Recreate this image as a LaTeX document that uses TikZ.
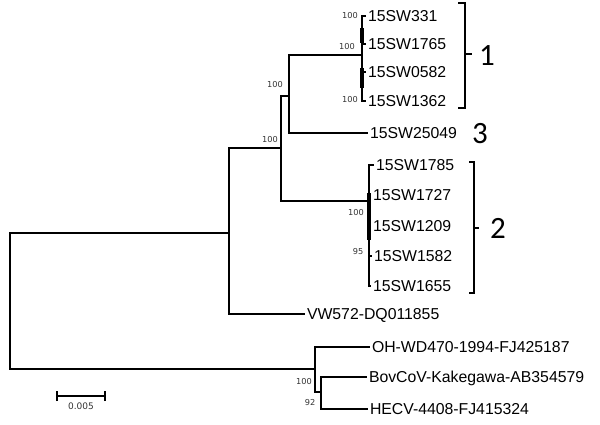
\documentclass[tikz,border=0pt]{standalone}
\usepackage{fontspec}
\setmainfont{Liberation Sans}
\newfontfamily\bootfont{DejaVu Sans}
\newfontfamily\cladefont{Carlito}
\usepackage{tikz}
\usetikzlibrary{positioning}
\tikzset{leaf node/.style={anchor=west,inner xsep=1pt,inner ysep=0pt,text height=11.2pt,text depth=0pt,font=\fontsize{15.8}{18}\selectfont},
	boot label/.style={inner sep=0pt,text=black!80,font=\bootfont\fontsize{8.2}{9}\selectfont},
	clade label/.style={inner sep=0pt,font=\cladefont\fontsize{31}{33}\selectfont},
	elbow/.style={to path={|- (\tikztotarget)}},}

\begin{document}
\begin{tikzpicture}[x=1pt, y=-1pt, line width=2pt]
	\useasboundingbox (0,0) rectangle (600,424);
	% inner nodes of the tree
	\coordinate (r) at (10,301);
	\coordinate (a) at (229,233);
	\coordinate (c) at (281,148);
	\coordinate (d) at (289,96);
	\coordinate (h) at (362,55);
	\coordinate (g) at (369,201);
	\coordinate (e) at (315,369);
	\coordinate (f) at (321,392);
	\coordinate (h1) at (362,28);  \coordinate (h2) at (362,43);
	\coordinate (h3) at (362,68);  \coordinate (h4) at (362,88);
	\coordinate (g1) at (369,193); \coordinate (g2) at (369,240);

	% leaves
	\node[leaf node] (s331) at (366,16) {15SW331};
	\node[leaf node] (s1765) at (366,44) {15SW1765};
	\node[leaf node] (s0582) at (366,72) {15SW0582};
	\node[leaf node] (s1362) at (366,101) {15SW1362};
	\node[leaf node] (s25049) at (368,133) {15SW25049};
	\node[leaf node] (s1785) at (374,165) {15SW1785};
	\node[leaf node] (s1727) at (371,195) {15SW1727};
	\node[leaf node] (s1209) at (371,226) {15SW1209};
	\node[leaf node] (s1582) at (372,256) {15SW1582};
	\node[leaf node] (s1655) at (371,286) {15SW1655};
	\node[leaf node] (vw) at (305,314) {VW572-DQ011855};
	\node[leaf node] (oh) at (370,347) {OH-WD470-1994-FJ425187};
	\node[leaf node] (bov) at (367,377) {BovCoV-Kakegawa-AB354579};
	\node[leaf node] (hecv) at (368,409) {HECV-4408-FJ415324};

	\path[draw]
	(r) edge [elbow] (a)
	(r) edge [elbow] (e)
	(a) edge [elbow] (c)
	(a) edge [elbow] (vw.west)
	(c) edge [elbow] (d)
	(c) edge [elbow] (g)
	(d) edge [elbow] (h)
	(d) edge [elbow] (s25049.west)
	(h) edge [elbow] (s331.west)
	(h) edge [elbow] (s1765.west)
	(h) edge [elbow] (s0582.west)
	(h) edge [elbow] (s1362.west)
	(g) edge [elbow] (s1785.west)
	(g) edge [elbow] (s1727.west)
	(g) edge [elbow] (s1209.west)
	(g) edge [elbow] (s1582.west)
	(g) edge [elbow] (s1655.west)
	(e) edge [elbow] (oh.west)
	(e) edge [elbow] (f)
	(f) edge [elbow] (bov.west)
	(f) edge [elbow] (hecv.west);
	\draw[line width=3.8pt] (h1) -- (h2) (h3) -- (h4) (g1) -- (g2);

	% bootstrap values
	\node[boot label] at (275,85) {100};
	\node[boot label] at (270,140) {100};
	\node[boot label] at (350,16) {100};
	\node[boot label] at (347,47) {100};
	\node[boot label] at (350,100) {100};
	\node[boot label] at (356,213) {100};
	\node[boot label] at (358,252) {95};
	\node[boot label] at (304,382) {100};
	\node[boot label] at (310,403) {92};

	% clade brackets
	\draw[line width=1.8pt] (458,3) -- (465,3) -- (465,108) -- (458,108) (465,54) -- (472,54);
	\draw[line width=1.8pt] (469,162) -- (474,162) -- (474,293) -- (469,293) (474,228) -- (479,228);
	\node[clade label] (k1) at (487,56) {1};
	\node[clade label] (k3) at (480,134) {3};
	\node[clade label] (k2) at (498,228) {2};

	% scale bar
	\coordinate (sb1) at (57,396);
	\coordinate (sb2) at (105,396);
	\draw[line width=2.2pt] (sb1) -- (sb2) ([yshift=-5pt]sb1) -- ([yshift=5pt]sb1) ([yshift=-5pt]sb2) -- ([yshift=5pt]sb2);
	\node[boot label, font=\bootfont\fontsize{9}{10}\selectfont] (sbl) at (81,406) {0.005};
\end{tikzpicture}
\end{document}
